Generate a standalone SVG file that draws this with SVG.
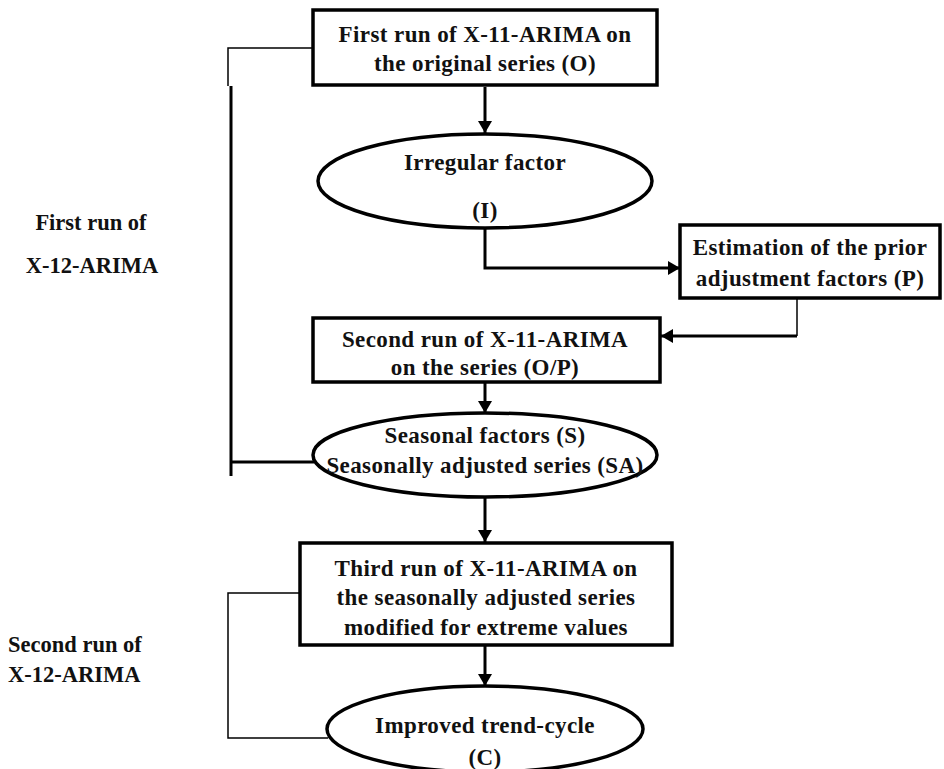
<svg xmlns="http://www.w3.org/2000/svg" width="944" height="769" viewBox="0 0 944 769">
<style>
.box{fill:#fff;stroke:#000;stroke-width:3.5}
.t{font-family:"Liberation Serif","Times New Roman",serif;font-weight:bold;font-size:23px;letter-spacing:0.4px;fill:#111;text-anchor:middle}
.l{font-family:"Liberation Serif","Times New Roman",serif;font-weight:bold;font-size:22.5px;fill:#111}
.c{fill:none;stroke:#000;stroke-width:3}
.thin{fill:none;stroke:#000;stroke-width:1.5}
</style>
<defs>
<marker id="ah" viewBox="0 0 12 14" refX="12" refY="7" markerWidth="12" markerHeight="14" markerUnits="userSpaceOnUse" orient="auto">
<path d="M0,0 L12,7 L0,14 Z" fill="#000"/>
</marker>
</defs>
<rect width="944" height="769" fill="#fff"/>
<g id="connectors">
<line class="c" x1="485" y1="87" x2="485" y2="133" marker-end="url(#ah)"/>
<polyline class="c" points="485,228 485,268 680,268" marker-end="url(#ah)"/>
<polyline class="thin" points="797,298 797,336"/>
<polyline class="c" points="797,336 661,336" marker-end="url(#ah)"/>
<line class="c" x1="485" y1="383" x2="485" y2="413" marker-end="url(#ah)"/>
<line class="c" x1="485" y1="497" x2="485" y2="542" marker-end="url(#ah)"/>
<line class="c" x1="485" y1="646" x2="485" y2="686" marker-end="url(#ah)"/>
<polyline class="thin" points="313,48 228,48 228,86"/>
<polyline class="c" points="231,86 231,476"/>
<polyline class="c" points="231,462 314,462"/>
<polyline class="thin" points="300,593 228,593 228,738 328,738"/>
</g>
<g id="n1">
<rect class="box" x="313" y="10" width="344" height="75"/>
<text class="t" x="485" y="42">First run of X-11-ARIMA on</text>
<text class="t" x="485" y="71">the original series (O)</text>
</g>
<g id="n2">
<ellipse class="box" cx="485" cy="181" rx="167" ry="47" stroke-width="3"/>
<text class="t" x="485" y="170">Irregular factor</text>
<text class="t" x="485" y="218">(I)</text>
</g>
<g id="n3">
<rect class="box" x="680" y="225" width="260" height="73"/>
<text class="t" x="810" y="255">Estimation of the prior</text>
<text class="t" x="810" y="286">adjustment factors (P)</text>
</g>
<g id="n4">
<rect class="box" x="313" y="318" width="347" height="64"/>
<text class="t" x="485" y="347">Second run of X-11-ARIMA</text>
<text class="t" x="485" y="375">on the series (O/P)</text>
</g>
<g id="n5">
<ellipse class="box" cx="485" cy="455" rx="172" ry="42" stroke-width="3"/>
<text class="t" x="485" y="443">Seasonal factors (S)</text>
<text class="t" x="485" y="473">Seasonally adjusted series (SA)</text>
</g>
<g id="n6">
<rect class="box" x="300" y="543" width="372" height="102"/>
<text class="t" x="486" y="576">Third run of X-11-ARIMA on</text>
<text class="t" x="486" y="605">the seasonally adjusted series</text>
<text class="t" x="486" y="635">modified for extreme values</text>
</g>
<g id="n7">
<ellipse class="box" cx="485" cy="729" rx="158" ry="43" stroke-width="3"/>
<text class="t" x="485" y="733">Improved trend-cycle</text>
<text class="t" x="485" y="765">(C)</text>
</g>
<g id="labels">
<text class="l" x="91" y="230" text-anchor="middle">First run of</text>
<text class="l" x="92" y="273" text-anchor="middle">X-12-ARIMA</text>
<text class="l" x="8" y="652">Second run of</text>
<text class="l" x="8" y="682">X-12-ARIMA</text>
</g>
</svg>
